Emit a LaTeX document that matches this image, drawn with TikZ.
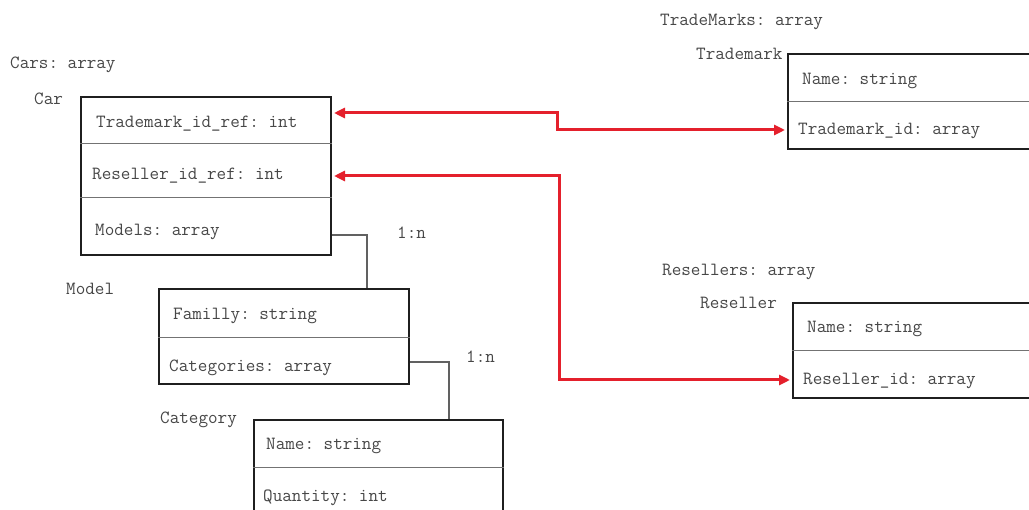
\documentclass[tikz,border=0pt]{standalone}
\usetikzlibrary{arrows.meta}
\definecolor{refred}{RGB}{228,32,44}
\frenchspacing
\begin{document}
\begin{tikzpicture}[x=1pt,y=-1pt,
  lbl/.style={font=\ttfamily\fontsize{18.6}{18.6}\selectfont\frenchspacing, text=black!72, inner sep=0pt, anchor=west},
  tbl/.style={draw=black!88, line width=2pt, anchor=north west, inner sep=0pt},
  divider/.style={draw=black!55, line width=1pt},
  link/.style={draw=black!62, line width=1.5pt},
  ref/.style={draw=refred, line width=3pt, shorten <=2pt, shorten >=2pt,
    {Triangle[length=11pt,width=10pt]}-{Triangle[length=11pt,width=10pt]}}
]
\useasboundingbox (0,0) rectangle (1029,510);
\clip (0,0) rectangle (1029,510);
\fill[white] (0,0) rectangle (1029,510);

% Car table
\node[lbl] (carsT) at (10,65) {Cars: array};
\node[lbl] (carT) at (34,99) {Car};
\node[tbl, minimum width=250pt, minimum height=158pt] (car) at (80,96) {};
\draw[divider] (car.west |- 0,144) -- (car.east |- 0,144);
\draw[divider] (car.west |- 0,198) -- (car.east |- 0,198);
\node[lbl] (carF1) at (96,124) {Trademark\_id\_ref: int};
\node[lbl] (carF2) at (92,176) {Reseller\_id\_ref: int};
\node[lbl] (carF3) at (95,232) {Models: array};

% Model table
\node[lbl] (modelT) at (66,289) {Model};
\node[tbl, minimum width=250pt, minimum height=95pt] (model) at (158,288) {};
\draw[divider] (model.west |- 0,338) -- (model.east |- 0,338);
\node[lbl] (modelF1) at (173,316) {Familly: string};
\node[lbl] (modelF2) at (169,368) {Categories: array};

% Category table
\node[lbl] (catT) at (160,420) {Category};
\node[tbl, minimum width=249pt, minimum height=115pt] (cat) at (253,419) {};
\draw[divider] (cat.west |- 0,468) -- (cat.east |- 0,468);
\node[lbl] (catF1) at (266,446) {Name: string};
\node[lbl] (catF2) at (263,498) {Quantity: int};

% Trademark table
\node[lbl] (tmsT) at (660,22) {TradeMarks: array};
\node[lbl] (tmT) at (696,54) {Trademark};
\node[tbl, minimum width=260pt, minimum height=95pt] (tm) at (787,53) {};
\draw[divider] (tm.west |- 0,102) -- (tm.east |- 0,102);
\node[lbl] (tmF1) at (802,81) {Name: string};
\node[lbl] (tmF2) at (798,131) {Trademark\_id: array};

% Reseller table
\node[lbl] (rsT) at (662,272) {Resellers: array};
\node[lbl] (rT) at (700,303) {Reseller};
\node[tbl, minimum width=260pt, minimum height=95pt] (rs) at (792,302) {};
\draw[divider] (rs.west |- 0,351) -- (rs.east |- 0,351);
\node[lbl] (rsF1) at (807,329) {Name: string};
\node[lbl] (rsF2) at (803,381) {Reseller\_id: array};

% 1:n links
\draw[link] (car.east |- 0,235) -- (367,235) -- (model.north -| 367,0);
\node[lbl] (card1) at (397,233) {1:n};
\draw[link] (model.east |- 0,362) -- (449,362) -- (cat.north -| 449,0);
\node[lbl] (card2) at (466,357) {1:n};

% references
\draw[ref] (car.east |- 0,113) -- (557,113) -- (557,130) -- (tm.west |- 0,130);
\draw[ref] (car.east |- 0,176) -- (559,176) -- (559,380) -- (rs.west |- 0,380);
\end{tikzpicture}
\end{document}
